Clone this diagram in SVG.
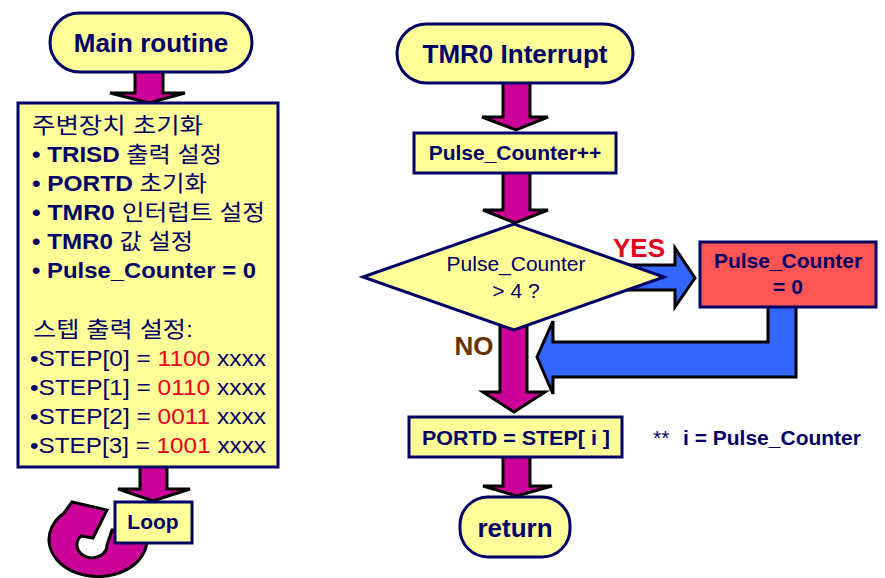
<svg xmlns="http://www.w3.org/2000/svg" width="885" height="578" viewBox="0 0 885 578">
<style>
.t{font-family:"Liberation Sans","Noto Sans CJK KR",Arial,sans-serif;fill:#000066}
.b{font-weight:bold}
.k{font-weight:normal}
.red{fill:#E8001C}
.no{fill:#663300;font-weight:bold}
.yes{fill:#E8001C;font-weight:bold}
.c{text-anchor:middle}
.box{fill:#FFFF99;stroke:#000066;stroke-width:3}
.rbox{fill:#FF5555;stroke:#000066;stroke-width:3}
.arr{fill:#CC0099;stroke:#000;stroke-width:3;stroke-linejoin:miter}
.blue{fill:#3366FF;stroke:#000;stroke-width:3;stroke-linejoin:miter}
</style>
<rect width="885" height="578" fill="#fff"/>
<g id="connectors">
<path class="arr" d="M135 70 L163 70 L163 93 L185 93 L149 103 L110 93 L135 93 Z"/>
<path class="arr" d="M140 465 L167 465 L167 489 L190 489 L153 501 L118 489 L140 489 Z"/>
<path class="arr" d="M147 530 L147 540 A49 37 0 1 1 64 513 L72 502 L107 510 L93 538 L81 536 A15 13 0 1 0 107 545 L112 530 Z"/>
<path class="arr" d="M503 81 L530 81 L530 117 L548 117 L516 130 L482 117 L503 117 Z"/>
<path class="arr" d="M503 171 L530 171 L530 210 L548 210 L515 223 L483 210 L503 210 Z"/>
<path class="blue" d="M590 265 L675 265 L675 248 L695 278 L675 307 L675 290 L590 290 Z"/>
<path class="blue" d="M768 305 L796 305 L796 377 L553 377 L553 394 L537 357 L553 321 L553 342 L768 342 Z"/>
<path class="arr" d="M500 320 L527 320 L527 392 L545 392 L514 412 L483 392 L500 392 Z"/>
<path class="arr" d="M503 455 L530 455 L530 486 L552 486 L517 496 L483 486 L503 486 Z"/>
<text class="t yes c" x="639" y="257" font-size="26">YES</text>
<text class="t no c" x="474" y="355" font-size="26">NO</text>
</g>
<g id="main">
<rect class="box" x="50" y="13" width="202" height="59" rx="29.5"/>
<text class="t b c" x="151" y="52" font-size="26">Main routine</text>
</g>
<g id="init">
<rect class="box" x="18" y="103" width="260" height="364"/>
<g class="t" font-size="22">
<text x="32" y="133" textLength="171" lengthAdjust="spacingAndGlyphs">주변장치 초기화</text>
<text x="32" y="162" textLength="190" lengthAdjust="spacingAndGlyphs"><tspan class="b">• TRISD </tspan>출력 설정</text>
<text x="32" y="191" textLength="175" lengthAdjust="spacingAndGlyphs"><tspan class="b">• PORTD </tspan>초기화</text>
<text x="32" y="220" textLength="233" lengthAdjust="spacingAndGlyphs"><tspan class="b">• TMR0 </tspan>인터럽트 설정</text>
<text x="32" y="249" textLength="161" lengthAdjust="spacingAndGlyphs"><tspan class="b">• TMR0 </tspan>값 설정</text>
<text x="32" y="278" textLength="224" lengthAdjust="spacingAndGlyphs" class="b">• Pulse_Counter = 0</text>
<text x="33" y="337" textLength="160" lengthAdjust="spacingAndGlyphs">스텝 출력 설정:</text>
<text x="30" y="366" textLength="236" lengthAdjust="spacingAndGlyphs">•STEP[0] = <tspan class="red">1100</tspan> xxxx</text>
<text x="30" y="395" textLength="236" lengthAdjust="spacingAndGlyphs">•STEP[1] = <tspan class="red">0110</tspan> xxxx</text>
<text x="30" y="424" textLength="236" lengthAdjust="spacingAndGlyphs">•STEP[2] = <tspan class="red">0011</tspan> xxxx</text>
<text x="30" y="453" textLength="236" lengthAdjust="spacingAndGlyphs">•STEP[3] = <tspan class="red">1001</tspan> xxxx</text>
</g>
</g>
<g id="loop">
<rect class="box" x="115" y="502" width="77" height="41"/>
<text class="t b c" x="153" y="529" font-size="21">Loop</text>
</g>
<g id="tmr0">
<rect class="box" x="397" y="24" width="236" height="59" rx="29.5"/>
<text class="t b c" x="515" y="63" font-size="26">TMR0 Interrupt</text>
</g>
<g id="inc">
<rect class="box" x="414" y="133" width="202" height="40"/>
<text class="t b c" x="515" y="160" font-size="21">Pulse_Counter++</text>
</g>
<g id="decision">
<polygon class="box" points="363,277 514,224 664,277 514,330"/>
<text class="t c" x="516" y="271" font-size="21">Pulse_Counter</text>
<text class="t c" x="516" y="298" font-size="21">&gt; 4 ?</text>
</g>
<g id="reset">
<rect class="rbox" x="700" y="242" width="176" height="65"/>
<text class="t b c" x="788" y="268" font-size="21">Pulse_Counter</text>
<text class="t b c" x="788" y="294" font-size="21">= 0</text>
</g>
<g id="output">
<rect class="box" x="409" y="417" width="213" height="40"/>
<text class="t b c" x="516" y="445" font-size="21" textLength="188" lengthAdjust="spacingAndGlyphs">PORTD = STEP[ i ]</text>
</g>
<g id="return">
<rect class="box" x="460" y="497" width="110" height="60" rx="28"/>
<text class="t b c" x="515" y="537" font-size="26">return</text>
</g>
<g id="note">
<text class="t" x="653" y="445" font-size="21">**</text>
<text class="t b" x="683" y="445" font-size="21">i = Pulse_Counter</text>
</g>
</svg>
